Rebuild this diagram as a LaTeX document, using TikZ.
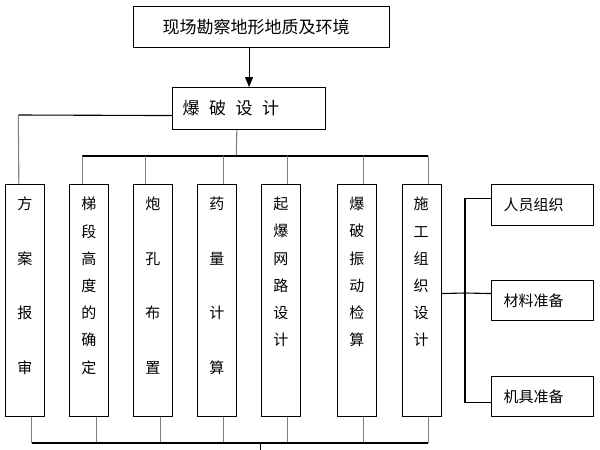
\documentclass[tikz,border=0pt]{standalone}
\usepackage{fontspec}
\setmainfont{Noto Sans CJK SC}
\usetikzlibrary{arrows.meta}

\begin{document}
\begin{tikzpicture}[x=1pt,y=-1pt,
  box/.style={draw=black,line width=1.1pt,anchor=north west,inner ysep=0pt},
  wide/.style={box,align=left,minimum height=#1},
  column/.style={box,minimum width=39pt,minimum height=232pt,inner sep=0pt},
  sparse/.style={anchor=north,align=center,inner sep=0pt,font=\fontsize{15}{54.5}\selectfont},
  dense/.style={anchor=north,align=center,inner sep=0pt,font=\fontsize{15}{27.2}\selectfont},
  stem/.style={draw=gray,line width=1.1pt},
  bar/.style={draw=black,line width=1.1pt}]
\useasboundingbox (0,0) rectangle (600,450);
\node[wide=41pt,inner xsep=29pt,text width=198pt,font=\fontsize{17}{20}\selectfont] (survey) at (133,6) {现场勘察地形地质及环境};
\node[wide=42pt,inner xsep=10pt,text width=133pt,font=\fontsize{17}{20}\selectfont] (design) at (172,87) {\spaceskip=9.5pt 爆 破 设 计};
\node[column] (plan) at (5.3,184) {};
\node[column] (bench) at (69.3,184) {};
\node[column] (hole) at (133.3,184) {};
\node[column] (charge) at (197.3,184) {};
\node[column] (net) at (261.3,184) {};
\node[column] (vib) at (337.3,184) {};
\node[column] (build) at (401.5,184) {};
\node[sparse] (planT) at (24.8,197) {方\\案\\报\\审};
\node[dense] (benchT) at (88.8,197) {梯\\段\\高\\度\\的\\确\\定};
\node[sparse] (holeT) at (152.8,197) {炮\\孔\\布\\置};
\node[sparse] (chargeT) at (216.8,197) {药\\量\\计\\算};
\node[dense] (netT) at (280.8,197) {起\\爆\\网\\路\\设\\计};
\node[dense] (vibT) at (356.8,197) {爆\\破\\振\\动\\检\\算};
\node[dense] (buildT) at (421,197) {施\\工\\组\\织\\设\\计};
\node[wide=41pt,inner xsep=12pt,text width=78pt,font=\fontsize{15}{18}\selectfont] (staff) at (491,184) {人员组织};
\node[wide=40pt,inner xsep=12pt,text width=78pt,font=\fontsize{15}{18}\selectfont] (stuff) at (491,280) {材料准备};
\node[wide=40pt,inner xsep=12pt,text width=78pt,font=\fontsize{15}{18}\selectfont] (tools) at (491,376) {机具准备};
\coordinate (elbow) at (18.3,115);
\coordinate (busT) at (236.3,156);
\coordinate (busB) at (260.7,443);
\coordinate (tail) at (260.7,450);
\coordinate (split) at (465,293);
% survey to design
\draw[-{Triangle[width=8pt,length=10pt]},line width=1.1pt] (design.north |- survey.south) -- (design.north);
% design to the columns
\draw[bar] ([yshift=-7pt]design.west) -- (elbow);
\draw[stem] (elbow) -- ([xshift=-6.5pt]plan.north);
\draw[stem] ([xshift=-12.2pt]design.south) -- (busT);
\draw[bar] ([xshift=-7pt]bench.north |- busT) -- ([xshift=6.5pt]build.north |- busT);
\draw[stem] ([xshift=-7pt]bench.north) -- ([xshift=-7pt]bench.north |- busT);
\draw[stem] ([xshift=-7.5pt]hole.north) -- ([xshift=-7.5pt]hole.north |- busT);
\draw[stem] ([xshift=6pt]charge.north) -- ([xshift=6pt]charge.north |- busT);
\draw[stem] ([xshift=6pt]net.north) -- ([xshift=6pt]net.north |- busT);
\draw[stem] ([xshift=6.5pt]vib.north) -- ([xshift=6.5pt]vib.north |- busT);
\draw[stem] ([xshift=6.5pt]build.north) -- ([xshift=6.5pt]build.north |- busT);
% bottom bus
\draw[stem] ([xshift=6.5pt]plan.south) -- ([xshift=6.5pt]plan.south |- busB);
\draw[stem] ([xshift=7pt]bench.south) -- ([xshift=7pt]bench.south |- busB);
\draw[stem] ([xshift=7pt]hole.south) -- ([xshift=7pt]hole.south |- busB);
\draw[stem] ([xshift=6pt]charge.south) -- ([xshift=6pt]charge.south |- busB);
\draw[stem] ([xshift=6pt]net.south) -- ([xshift=6pt]net.south |- busB);
\draw[stem] ([xshift=6.5pt]vib.south) -- ([xshift=6.5pt]vib.south |- busB);
\draw[stem] ([xshift=6.5pt]build.south) -- ([xshift=6.5pt]build.south |- busB);
\draw[bar] ([xshift=6.5pt]plan.south |- busB) -- ([xshift=6.5pt]build.south |- busB);
\draw[bar] (busB) -- (tail);
% organisation branches
\draw[bar] ([yshift=7pt]build.east) -- (split);
\draw[bar] ([yshift=6.5pt]staff.west) -| (split) |- ([yshift=-6pt]tools.west);
\draw[bar] (split) -- ([yshift=7pt]stuff.west);
\end{tikzpicture}
\end{document}
